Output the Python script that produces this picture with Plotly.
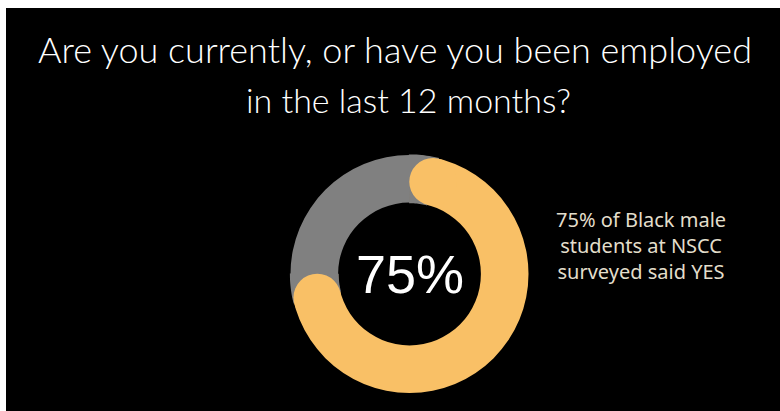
import math
import plotly.graph_objects as go

# ---- data ----
labels = ["Yes", "No"]
values = [75, 25]
colors = ["#F9C066", "#808080"]
center_label = "75%"
title_lines = ["Are you currently, or have you been employed", "in the last 12 months?"]
side_lines = ["75% of Black male", "students at NSCC", "surveyed said YES"]

W, H = 780, 411
ML, MT = 6, 8
PW, PH = W - ML, H - MT

# donut geometry (pixels)
cx, cy = 409.5, 274.0
R = 119.0
HOLE = 0.60


def px(x):
    return (x - ML) / PW


def py(y):
    return (H - y) / PH


fig = go.Figure()
fig.add_trace(go.Pie(
    labels=labels, values=values, sort=False, direction="clockwise", rotation=0,
    hole=HOLE, marker=dict(colors=colors, line=dict(width=0)),
    textinfo="none", hoverinfo="label+percent", showlegend=False,
    domain=dict(x=[px(cx - R), px(cx + R)], y=[py(cy + R), py(cy - R)]),
))

# rounded caps on the "Yes" arc, derived from its share
share = values[0] / sum(values)
r_in = R * HOLE
r_mid = (R + r_in) / 2
w = (R - r_in) / 2
delta = math.degrees(w / r_mid)
arc_start = 0.0
arc_end = 360 * share


def pt(ang_deg, r):
    a = math.radians(ang_deg)
    return cx + r * math.sin(a), cy - r * math.cos(a)


def sector_path(a0, a1, n=12):
    pts = []
    for i in range(n + 1):
        a = a0 + (a1 - a0) * i / n
        pts.append(pt(a, R + 0.6))
    for i in range(n + 1):
        a = a1 - (a1 - a0) * i / n
        pts.append(pt(a, r_in - 0.6))
    d = "M " + " L ".join(f"{px(x):.5f},{py(y):.5f}" for x, y in pts) + " Z"
    return d


shapes = []
for a0, a1, ac in [(arc_start - 0.3, arc_start + delta, arc_start + delta),
                   (arc_end - delta, arc_end + 0.3, arc_end - delta)]:
    shapes.append(dict(type="path", path=sector_path(a0, a1), xref="paper", yref="paper",
                       fillcolor=colors[1], line=dict(width=0), layer="above"))
    x, y = pt(ac, r_mid)
    shapes.append(dict(type="circle", xref="paper", yref="paper",
                       x0=px(x - w), x1=px(x + w), y0=py(y + w), y1=py(y - w),
                       fillcolor=colors[0], line=dict(width=0), layer="above"))


def ann(text, x, y, family, size, color, weight=400):
    return dict(text=text, x=px(x), y=py(y), xref="paper", yref="paper",
                xanchor="center", yanchor="middle", showarrow=False, align="center",
                font=dict(family=family, size=size, color=color, weight=weight))


annotations = [
    ann(title_lines[0], 395, 49, "Lato", 36, "white", 300),
    ann(title_lines[1], 409, 99, "Lato", 34, "white", 300),
    ann(center_label, cx, cy, "Liberation Sans", 54, "white"),
    ann("<br>".join(side_lines), 641, 245, "Noto Sans", 20, "#E3DECB"),
]

fig.update_layout(
    width=W, height=H,
    margin=dict(l=ML, r=0, t=MT, b=0, pad=0),
    paper_bgcolor="white",
    shapes=[dict(type="rect", xref="paper", yref="paper", x0=0, x1=1, y0=0, y1=1,
                 fillcolor="black", line=dict(width=0), layer="below")] + shapes,
    annotations=annotations,
)

fig.write_html("out.html", config={"displayModeBar": False},
               post_script="document.body.style.margin='0';document.body.style.overflow='hidden';")
